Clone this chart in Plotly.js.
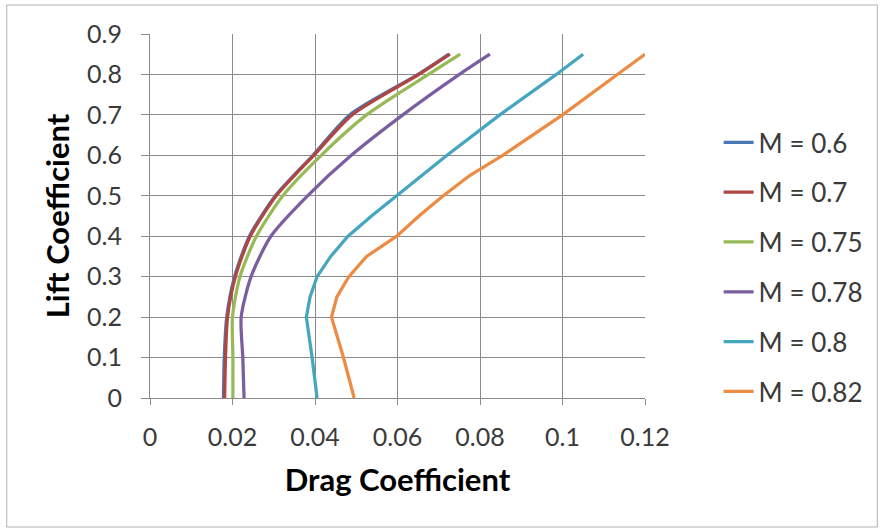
<!DOCTYPE html>
<html>
<head>
<meta charset="utf-8">
<script src="https://cdn.plot.ly/plotly-3.0.1.min.js"></script>
<style>
  html, body { margin: 0; padding: 0; background: #ffffff; }
  #chart { width: 881px; height: 531px; }
</style>
</head>
<body>
<div id="chart"></div>
<script>
// Drag polar: lift coefficient vs drag coefficient at several Mach numbers
const liftCoeff = [0, 0.1, 0.2, 0.3, 0.4, 0.5, 0.6, 0.7, 0.8, 0.85];
const liftCoeffFine = [0, 0.1, 0.2, 0.25, 0.3, 0.35, 0.4, 0.45, 0.5, 0.55, 0.6, 0.7, 0.8, 0.85];

const machLabels = ["M = 0.6", "M = 0.7", "M = 0.75", "M = 0.78", "M = 0.8", "M = 0.82"];

const dragM060 = [0.0178, 0.0180, 0.0186, 0.0205, 0.0241, 0.0304, 0.0395, 0.0484, 0.0650, 0.0725];
const dragM070 = [0.0181, 0.0183, 0.0188, 0.0207, 0.0243, 0.0306, 0.0397, 0.0490, 0.0652, 0.0727];
const dragM075 = [0.0201, 0.0201, 0.0200, 0.0218, 0.0258, 0.0322, 0.0415, 0.0525, 0.0675, 0.0752];
const dragM078 = [0.0228, 0.0225, 0.0221, 0.0245, 0.0293, 0.0382, 0.0488, 0.0613, 0.0750, 0.0824];
const dragM080 = [0.0405, 0.0393, 0.0379, 0.0388, 0.0405, 0.0438, 0.0480, 0.0537, 0.0598, 0.0658, 0.0720, 0.0848, 0.0985, 0.1050];
const dragM082 = [0.0495, 0.0469, 0.0440, 0.0453, 0.0482, 0.0525, 0.0598, 0.0652, 0.0711, 0.0775, 0.0855, 0.1000, 0.1133, 0.1200];

const xTickVals = [0, 0.02, 0.04, 0.06, 0.08, 0.1, 0.12];
const xTickText = ["0", "0.02", "0.04", "0.06", "0.08", "0.1", "0.12"];
const yTickVals = [0, 0.1, 0.2, 0.3, 0.4, 0.5, 0.6, 0.7, 0.8, 0.9];
const yTickText = ["0", "0.1", "0.2", "0.3", "0.4", "0.5", "0.6", "0.7", "0.8", "0.9"];

const seriesColors = ["#4A78B2", "#B04541", "#98B957", "#7B5E9F", "#45A6BE", "#EC8C44"];
// the low-Mach polars are drawn smoothed, the transonic ones point to point
const seriesSmooth = [true, true, true, true, false, false];

const seriesX = [dragM060, dragM070, dragM075, dragM078, dragM080, dragM082];
const seriesY = [liftCoeff, liftCoeff, liftCoeff, liftCoeff, liftCoeffFine, liftCoeffFine];

const traces = seriesX.map((xs, i) => ({
  type: "scatter",
  mode: "lines",
  x: xs,
  y: seriesY[i],
  name: machLabels[i],
  legendgroup: "g" + i,
  line: seriesSmooth[i]
    ? { color: seriesColors[i], width: 3.25, shape: "spline", smoothing: 0.7 }
    : { color: seriesColors[i], width: 3.25 },
  hoverinfo: "skip"
}));

const gridColor = "#8a8a8a";
const baseFont = "Lato, 'Open Sans', sans-serif";

const layout = {
  width: 881,
  height: 531,
  margin: { l: 149.5, r: 235.7, t: 34, b: 133 },
  paper_bgcolor: "#ffffff",
  plot_bgcolor: "#ffffff",
  font: { family: baseFont, size: 25, color: "#404040" },
  showlegend: true,
  legend: {
    x: 1.1487,
    xanchor: "left",
    y: 0.36,
    yanchor: "middle",
    tracegroupgap: 13,
    font: { family: baseFont, size: 26, color: "#3a3a3a" },
    bgcolor: "rgba(0,0,0,0)",
    itemwidth: 30
  },
  xaxis: {
    range: [0, 0.12],
    tickvals: xTickVals,
    ticktext: xTickText,
    showgrid: true,
    gridcolor: gridColor,
    gridwidth: 1,
    zeroline: false,
    showline: true,
    linecolor: gridColor,
    linewidth: 1,
    ticks: "outside",
    ticklen: 6,
    tickcolor: gridColor,
    ticklabelstandoff: 11,
    tickfont: { family: baseFont, size: 25, color: "#3a3a3a" },
    title: {
      text: "Drag Coefficient",
      font: { family: baseFont, size: 31, color: "#000000", weight: "bold" },
      standoff: 19
    }
  },
  yaxis: {
    range: [0, 0.9],
    tickvals: yTickVals,
    ticktext: yTickText,
    showgrid: true,
    gridcolor: gridColor,
    gridwidth: 1,
    zeroline: false,
    showline: true,
    linecolor: gridColor,
    linewidth: 1,
    ticks: "outside",
    ticklen: 8,
    tickcolor: gridColor,
    ticklabelstandoff: 14,
    tickfont: { family: baseFont, size: 25, color: "#3a3a3a" },
    title: {
      text: "Lift Coefficient",
      font: { family: baseFont, size: 31, color: "#000000", weight: "bold" },
      standoff: 8
    }
  },
  shapes: [
    {
      type: "rect",
      xref: "paper", yref: "paper",
      x0: -0.2894, x1: 1.4693, y0: -0.3544, y1: 1.0797,
      line: { color: "#b0b0b0", width: 1 },
      fillcolor: "rgba(0,0,0,0)",
      layer: "below"
    }
  ]
};

Plotly.newPlot("chart", traces, layout, { displayModeBar: false, staticPlot: true });
</script>
</body>
</html>
